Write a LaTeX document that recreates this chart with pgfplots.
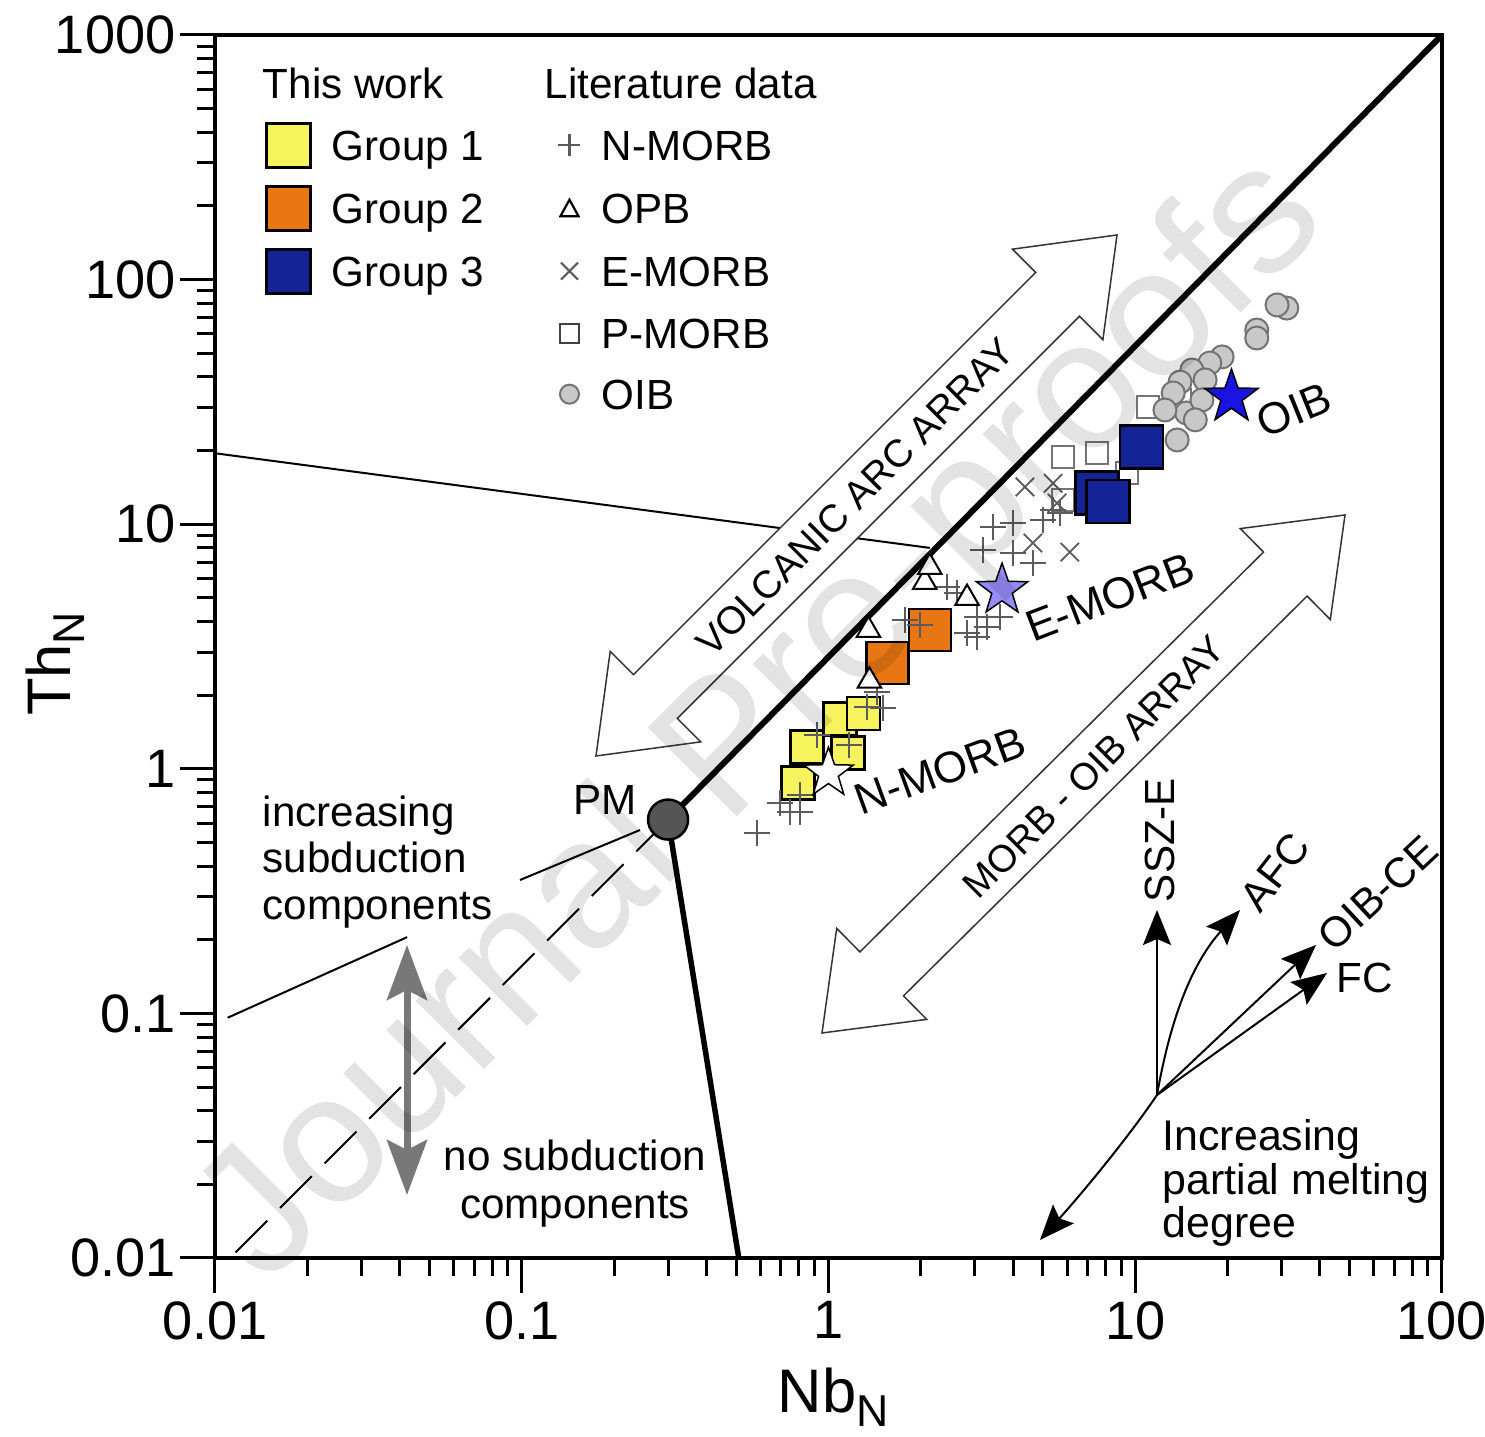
\documentclass[border=0pt]{standalone}
\usepackage{fontspec}
\setmainfont{Liberation Sans}
\usepackage{pgfplots}
\pgfplotsset{compat=1.18}
\usetikzlibrary{arrows.meta}

\definecolor{gA}{RGB}{246,243,92}
\definecolor{gB}{RGB}{232,118,18}
\definecolor{gC}{RGB}{20,35,150}
\definecolor{starE}{RGB}{150,140,250}
\definecolor{starO}{RGB}{25,20,225}
\definecolor{pmgray}{RGB}{85,85,85}
\definecolor{oibfill}{RGB}{200,200,200}
\definecolor{oibline}{RGB}{115,115,115}
\definecolor{litgray}{RGB}{90,90,95}
\definecolor{arrgray}{RGB}{120,120,120}

% filled five-point star
\pgfdeclareplotmark{fstar}{%
  \pgfpathmoveto{\pgfpointpolar{90}{\pgfplotmarksize}}%
  \pgfpathlineto{\pgfpointpolar{126}{0.4\pgfplotmarksize}}%
  \pgfpathlineto{\pgfpointpolar{162}{\pgfplotmarksize}}%
  \pgfpathlineto{\pgfpointpolar{198}{0.4\pgfplotmarksize}}%
  \pgfpathlineto{\pgfpointpolar{234}{\pgfplotmarksize}}%
  \pgfpathlineto{\pgfpointpolar{270}{0.4\pgfplotmarksize}}%
  \pgfpathlineto{\pgfpointpolar{306}{\pgfplotmarksize}}%
  \pgfpathlineto{\pgfpointpolar{342}{0.4\pgfplotmarksize}}%
  \pgfpathlineto{\pgfpointpolar{18}{\pgfplotmarksize}}%
  \pgfpathlineto{\pgfpointpolar{54}{0.4\pgfplotmarksize}}%
  \pgfpathclose
  \pgfusepathqfillstroke
}

\newcommand{\lbl}{\fontsize{12}{13.2}\selectfont}
\tikzset{legpad/.style={draw=none, fill=none}}

\begin{document}
\begin{tikzpicture}
\begin{axis}[
  at={(0,0)}, anchor=south west,
  scale only axis, width=122.7mm, height=122.3mm,
  xmode=log, ymode=log,
  xmin=0.01, xmax=100, ymin=0.01, ymax=1000,
  xtick={0.01,0.1,1,10,100}, xticklabels={0.01,0.1,1,10,100},
  ytick={0.01,0.1,1,10,100,1000}, yticklabels={0.01,0.1,1,10,100,1000},
  minor xtick={0.02,0.03,0.04,0.05,0.06,0.07,0.08,0.09,0.2,0.3,0.4,0.5,0.6,0.7,0.8,0.9,2,3,4,5,6,7,8,9,20,30,40,50,60,70,80,90},
  minor ytick={0.02,0.03,0.04,0.05,0.06,0.07,0.08,0.09,0.2,0.3,0.4,0.5,0.6,0.7,0.8,0.9,2,3,4,5,6,7,8,9,20,30,40,50,60,70,80,90,200,300,400,500,600,700,800,900},
  tick align=outside, tick pos=left,
  major tick length=3.5mm, minor tick length=1.8mm,
  every tick/.style={black, line width=0.3mm},
  axis line style={line width=0.4mm},
  tick label style={font=\fontsize{15.4}{16}\selectfont},
  xticklabel style={inner sep=0.8mm},
  yticklabel style={inner sep=0.4mm},
  xlabel={Nb\raisebox{-1.4mm}{\fontsize{12.7}{13}\selectfont N}},
  ylabel={Th\raisebox{-1.4mm}{\fontsize{12.7}{13}\selectfont N}},
  label style={font=\fontsize{17.5}{18}\selectfont},
  xlabel style={at={(axis description cs:0.504,-0.1137)}, anchor=center},
  ylabel style={at={(axis description cs:-0.1304,0.4857)}, anchor=center},
  legend columns=2, legend cell align=left,
  legend style={at={(axis description cs:0.04075,0.979)}, anchor=north west,
    draw=none, fill=none, inner sep=0pt, outer sep=0pt, row sep=1.6mm,
    font=\fontsize{12}{14}\selectfont,
    nodes={inner sep=0pt, text height=3.75mm, text depth=0.75mm},
    /tikz/every odd column/.append style={column sep=2.0mm},
    /tikz/every even column/.append style={column sep=7.3mm}},
]
% reference lines
\addplot[black, line width=0.6mm, forget plot] coordinates {(0.30,0.62) (100,1000)};
\addplot[black, line width=0.55mm, forget plot] coordinates {(0.30,0.62) (0.51,0.01)};
\addplot[black, line width=0.2mm, dash pattern=on 4.5mm off 1.8mm, forget plot] coordinates {(0.30,0.62) (0.0112,0.01)};
\addplot[black, line width=0.2mm, forget plot] coordinates {(0.01,19.5) (2.14,8.0)};
\addplot[black, line width=0.2mm, forget plot] coordinates {(0.011,0.096) (0.0423,0.205)};
\addplot[black, line width=0.2mm, forget plot] coordinates {(0.0987,0.351) (0.243,0.562)};

% P-MORB
\addplot[only marks, mark=square*, mark size=1.1mm, mark options={fill=white, draw=oibline, line width=0.2mm}, forget plot]
  coordinates {(5.81,18.8) (7.50,19.5) (5.81,12.6) (11.0,30.1) (14.0,32.2) (9.4,16.2)};
% OIB
\addplot[only marks, mark=*, mark size=1.15mm, mark options={fill=oibfill, draw=oibline, line width=0.2mm}, forget plot]
  coordinates {(31.2,76.5) (29.0,78.8) (24.9,62.2) (24.9,57.7) (19.2,48.3) (17.5,45.6) (15.3,42.7)
               (14.0,38.1) (13.3,34.4) (16.9,38.9) (14.7,28.5) (13.7,22.1) (16.5,32.2) (15.7,26.7) (12.5,29.3)};
% this work
\addplot[only marks, mark=square*, mark size=1.65mm, mark options={fill=gA, draw=black, line width=0.25mm}, forget plot]
  coordinates {(0.796,0.875) (0.851,1.23) (1.09,1.60) (1.16,1.16) (1.30,1.68)};
\addplot[only marks, mark=square*, mark size=2.1mm, mark options={fill=gB, draw=black, line width=0.25mm}, forget plot]
  coordinates {(1.56,2.71) (2.14,3.69)};
\addplot[only marks, mark=square*, mark size=2.15mm, mark options={fill=gC, draw=black, line width=0.25mm}, forget plot]
  coordinates {(10.5,20.7) (7.50,13.4) (8.15,12.4)};
% N-MORB
\addplot[only marks, mark=+, mark size=1.3mm, mark options={draw=litgray, line width=0.18mm}, forget plot]
  coordinates {(0.585,0.547) (0.695,0.725) (0.749,0.666) (0.807,0.666) (0.807,0.782) (0.917,1.37)
               (1.17,1.25) (1.335,1.79) (1.44,2.06) (1.51,1.77) (1.78,4.06) (1.99,3.87)
               (2.43,5.54) (2.62,5.23) (3.05,4.18) (3.29,3.80) (2.83,3.59) (3.05,3.46) (3.62,4.18)
               (3.44,9.75) (3.99,10.1) (5.00,10.4) (5.40,11.4) (3.19,7.85) (3.99,7.62) (4.64,6.94) (5.69,11.1)};
% E-MORB
\addplot[only marks, mark=x, mark size=1.3mm, mark options={draw=litgray, line width=0.18mm}, forget plot]
  coordinates {(4.37,14.2) (5.40,14.7) (5.56,12.2) (6.12,7.69) (4.64,8.38)};
% OPB
\addplot[only marks, mark=triangle*, mark size=1.35mm, mark options={fill=white, draw=black, line width=0.2mm}, forget plot]
  coordinates {(1.35,3.69) (1.36,2.29) (2.06,5.80) (2.14,6.68) (2.83,4.99)};
% reference compositions
\addplot[only marks, mark=fstar, mark size=2.6mm, mark options={fill=white, draw=black, line width=0.15mm}, forget plot]
  coordinates {(1.0,0.96)};
\addplot[only marks, mark=fstar, mark size=2.7mm, mark options={fill=starE, draw=black, line width=0.15mm}, forget plot]
  coordinates {(3.68,5.38)};
\addplot[only marks, mark=fstar, mark size=2.8mm, mark options={fill=starO, draw=black, line width=0.15mm}, forget plot]
  coordinates {(20.6,33.1)};
\addplot[only marks, mark=*, mark size=2.0mm, mark options={fill=pmgray, draw=black, line width=0.25mm}, forget plot]
  coordinates {(0.30,0.62)};

% legend
\addlegendimage{empty legend}\addlegendentry{\hspace*{-6.9mm}This work}
\addlegendimage{empty legend}\addlegendentry{\hspace*{-5.7mm}Literature data}
\addlegendimage{legend image code/.code={\draw[fill=gA, line width=0.3mm] (0mm,-2.2mm) rectangle (4.4mm,2.2mm);}}
\addlegendentry{Group 1}
\addlegendimage{legend image code/.code={\draw[litgray, line width=0.22mm] (0mm,0mm) -- (2.2mm,0mm) (1.1mm,-1.1mm) -- (1.1mm,1.1mm); \path[legpad] (0mm,-2.25mm) rectangle (2.2mm,2.25mm);}}
\addlegendentry{N-MORB}
\addlegendimage{legend image code/.code={\draw[fill=gB, line width=0.3mm] (0mm,-2.2mm) rectangle (4.4mm,2.2mm);}}
\addlegendentry{Group 2}
\addlegendimage{legend image code/.code={\draw[black, line width=0.22mm] (0.2mm,-0.8mm) -- (2.0mm,-0.8mm) -- (1.1mm,0.85mm) -- cycle; \path[legpad] (0mm,-2.25mm) rectangle (2.2mm,2.25mm);}}
\addlegendentry{OPB}
\addlegendimage{legend image code/.code={\draw[fill=gC, line width=0.3mm] (0mm,-2.2mm) rectangle (4.4mm,2.2mm);}}
\addlegendentry{Group 3}
\addlegendimage{legend image code/.code={\draw[litgray, line width=0.22mm] (0.25mm,-0.85mm) -- (1.95mm,0.85mm) (0.25mm,0.85mm) -- (1.95mm,-0.85mm); \path[legpad] (0mm,-2.25mm) rectangle (2.2mm,2.25mm);}}
\addlegendentry{E-MORB}
\addlegendimage{empty legend}\addlegendentry{}
\addlegendimage{legend image code/.code={\draw[black!75, line width=0.22mm] (0.15mm,-1.0mm) rectangle (2.05mm,0.9mm); \path[legpad] (0mm,-2.25mm) rectangle (2.2mm,2.25mm);}}
\addlegendentry{P-MORB}
\addlegendimage{empty legend}\addlegendentry{}
\addlegendimage{legend image code/.code={\draw[fill=oibfill, draw=oibline, line width=0.2mm] (1.1mm,0mm) circle (0.95mm); \path[legpad] (0mm,-2.25mm) rectangle (2.2mm,2.25mm);}}
\addlegendentry{OIB}
\end{axis}

% annotations, in pixel units of the reference (0.1 mm each)
\begin{scope}[x=0.1mm, y=-0.1mm, shift={(-215,-1258)}]
  \draw[line width=0.15mm, draw=black!80, fill=white]
    (596,756) -- (700.7,741.9) -- (677.3,718.5) -- (1079.5,316.3) -- (1102.9,339.7) -- (1117,235)
    -- (1012.4,249.2) -- (1035.7,272.5) -- (633.5,674.7) -- (610.2,651.4) -- cycle;
  \draw[line width=0.15mm, draw=black!80, fill=white]
    (822,1033) -- (926.7,1019.4) -- (903.5,995.9) -- (1307.1,596.1) -- (1330.3,619.6) -- (1345,515)
    -- (1240.3,528.6) -- (1263.5,552.1) -- (859.9,951.9) -- (836.7,928.4) -- cycle;
  \node[rotate=45, font=\fontsize{11}{12}\selectfont, inner sep=0] at (855,497) {VOLCANIC ARC ARRAY};
  \node[rotate=45, font=\fontsize{10.8}{12}\selectfont, inner sep=0] at (1094,767) {MORB - OIB ARRAY};

  \draw[arrgray, line width=0.7mm, {Stealth[length=5.5mm,width=4mm,inset=1mm]}-{Stealth[length=5.5mm,width=4mm,inset=1mm]}] (407,945) -- (407,1195);

  \node[font=\lbl, inner sep=0] at (605,800) {PM};
  \node[font=\fontsize{12}{13.2}\selectfont, align=left, anchor=west, inner sep=0] at (262,862) {increasing\\subduction\\components};
  \node[font=\fontsize{12}{13.6}\selectfont, align=center, inner sep=0] at (575,1184) {no subduction\\components};

  \node[font=\fontsize{12.5}{13}\selectfont, rotate=20, inner sep=0] at (940,771) {N-MORB};
  \node[font=\fontsize{12.5}{13}\selectfont, rotate=21, inner sep=0] at (1110,597) {E-MORB};
  \node[font=\fontsize{12.5}{13}\selectfont, rotate=22, inner sep=0] at (1294,410) {OIB};

  \begin{scope}[line width=0.2mm, -{Stealth[length=3.5mm,width=2.8mm,inset=0.6mm]}]
    \draw (1157,1095) -- (1157,910);
    \draw (1157,1095) .. controls (1172,1010) and (1195,960) .. (1240,910);
    \draw (1157,1095) -- (1316,945);
    \draw (1157,1095) -- (1327,973);
    \draw (1157,1095) .. controls (1130,1135) and (1085,1190) .. (1040,1240);
  \end{scope}
  \node[font=\lbl, rotate=90, inner sep=0] at (1160,840) {SSZ-E};
  \node[font=\lbl, rotate=52, inner sep=0] at (1275,872) {AFC};
  \node[font=\lbl, rotate=43, inner sep=0] at (1378,893) {OIB-CE};
  \node[font=\lbl, inner sep=0] at (1365,978) {FC};
  \node[font=\fontsize{12.2}{12.3}\selectfont, align=left, anchor=west, inner sep=0] at (1162,1183) {Increasing\\partial melting\\degree};

  \node[rotate=45, opacity=0.11, font=\fontsize{52}{52}\selectfont, inner sep=0] at (765,722) {Journal Pre-proofs};

  \pgfresetboundingbox
  \path[use as bounding box] (0,0) rectangle (1485,1437);
\end{scope}
\end{tikzpicture}
\end{document}
